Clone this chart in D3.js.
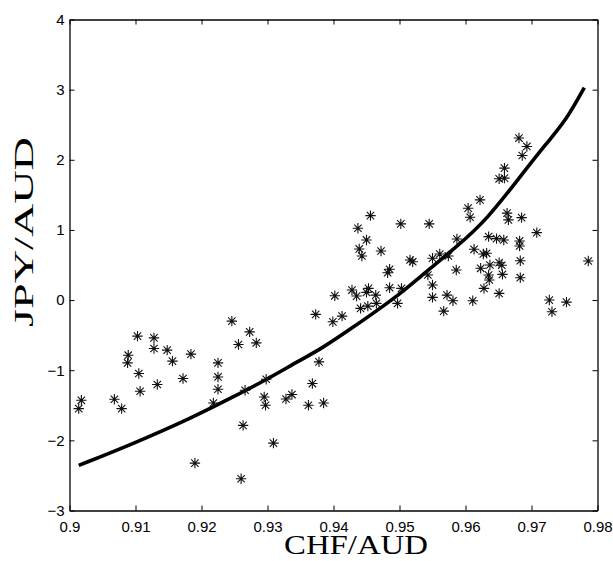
<!DOCTYPE html>
<html><head><meta charset="utf-8">
<script src="https://cdn.jsdelivr.net/npm/d3@7"></script>
<style>body{margin:0;background:#fff}</style>
</head><body>
<script>
// Scatter observations (CHF/AUD vs JPY/AUD)
const obsX = [0.9014,0.9018,0.9068,0.9079,0.9089,0.9088,0.9103,0.9105,0.9107,0.9128,0.9128,0.9133,0.9148,0.9156,0.9172,0.9184,0.9190,0.9225,0.9225,0.9225,0.9218,0.9246,0.9273,0.9256,0.9283,0.9266,0.9298,0.9295,0.9297,0.9328,0.9337,0.9362,0.9385,0.9263,0.9309,0.9260,0.9373,0.9399,0.9413,0.9378,0.9368,0.9456,0.9437,0.9502,0.9545,0.9450,0.9439,0.9443,0.9472,0.9516,0.9520,0.9485,0.9482,0.9550,0.9561,0.9543,0.9550,0.9428,0.9453,0.9485,0.9503,0.9402,0.9435,0.9450,0.9464,0.9441,0.9452,0.9465,0.9497,0.9550,0.9572,0.9567,0.9681,0.9693,0.9686,0.9659,0.9651,0.9659,0.9622,0.9604,0.9607,0.9663,0.9665,0.9685,0.9708,0.9587,0.9635,0.9647,0.9658,0.9682,0.9682,0.9613,0.9627,0.9632,0.9574,0.9586,0.9623,0.9637,0.9651,0.9655,0.9683,0.9786,0.9635,0.9636,0.9656,0.9683,0.9628,0.9581,0.9611,0.9651,0.9727,0.9731,0.9753];
const obsY = [-1.547,-1.429,-1.414,-1.547,-0.786,-0.896,-0.514,-1.047,-1.300,-0.539,-0.690,-1.204,-0.714,-0.871,-1.119,-0.771,-2.324,-0.896,-1.096,-1.271,-1.467,-0.300,-0.453,-0.633,-0.610,-1.286,-1.129,-1.381,-1.500,-1.410,-1.347,-1.500,-1.467,-1.786,-2.039,-2.547,-0.204,-0.310,-0.229,-0.881,-1.190,1.204,1.024,1.086,1.086,0.857,0.729,0.629,0.700,0.571,0.547,0.439,0.390,0.596,0.657,0.357,0.214,0.143,0.167,0.176,0.167,0.061,0.057,0.110,0.071,-0.119,-0.086,-0.047,-0.047,0.039,0.071,-0.157,2.310,2.190,2.061,1.881,1.729,1.739,1.429,1.310,1.181,1.239,1.143,1.176,0.961,0.871,0.904,0.876,0.857,0.843,0.771,0.724,0.657,0.667,0.629,0.429,0.453,0.500,0.533,0.496,0.561,0.557,0.357,0.286,0.367,0.319,0.167,-0.010,-0.010,0.096,0.000,-0.167,-0.029];
// Fitted curve, points
const fitX = [0.9014,0.9097,0.9188,0.9243,0.9299,0.9349,0.9380,0.9425,0.9496,0.9531,0.9587,0.9632,0.9683,0.9723,0.9753,0.9780];
const fitY = [-2.357,-2.047,-1.667,-1.404,-1.133,-0.857,-0.704,-0.419,0.047,0.333,0.761,1.143,1.761,2.239,2.571,3.030];
const xTicks = [0.9,0.91,0.92,0.93,0.94,0.95,0.96,0.97,0.98];
const yTicks = [-3,-2,-1,0,1,2,3,4];
const xTitle = "CHF/AUD";
const yTitle = "JPY/AUD";

const W = 613, H = 561;
const L = 69.5, R = 597.5, T = 19.5, B = 510.5;
const x = d3.scaleLinear().domain([0.9, 0.98]).range([L, R]);
const y = d3.scaleLinear().domain([-3, 4]).range([B, T]);

const svg = d3.select("body").append("svg").attr("width", W).attr("height", H)
  .style("font-family", "'Liberation Sans', Arial, sans-serif");

const fmtX = d => String(+d.toFixed(2));
const fmtY = d => d < 0 ? "\u2212" + Math.abs(d) : String(d);

function styleAxis(g) {
  g.selectAll("path.domain").attr("stroke", "#000").attr("stroke-width", 1.3);
  g.selectAll(".tick line").attr("stroke", "#000").attr("stroke-width", 1);
  g.selectAll(".tick text").attr("fill", "#000").style("font-size", "15px");
}

svg.append("g").attr("transform", `translate(0,${B})`)
  .call(d3.axisBottom(x).tickValues(xTicks).tickFormat(fmtX).tickSizeInner(-5).tickSizeOuter(0).tickPadding(11))
  .call(styleAxis).attr("font-family", null).attr("font-size", null);
svg.append("g").attr("transform", `translate(0,${T})`)
  .call(d3.axisTop(x).tickValues(xTicks).tickFormat("").tickSizeInner(-5).tickSizeOuter(0))
  .call(styleAxis);
svg.append("g").attr("transform", `translate(${L},0)`)
  .call(d3.axisLeft(y).tickValues(yTicks).tickFormat(fmtY).tickSizeInner(-5).tickSizeOuter(0).tickPadding(5))
  .call(styleAxis).attr("font-family", null).attr("font-size", null);
svg.append("g").attr("transform", `translate(${R},0)`)
  .call(d3.axisRight(y).tickValues(yTicks).tickFormat("").tickSizeInner(-5).tickSizeOuter(0))
  .call(styleAxis);

// fitted curve
const fit = fitX.map((v, i) => [v, fitY[i]]);
svg.append("path").datum(fit)
  .attr("d", d3.line().x(d => x(d[0])).y(d => y(d[1])).curve(d3.curveBasis))
  .attr("fill", "none").attr("stroke", "#000").attr("stroke-width", 3.6);

// asterisk markers
const r = 5.2, rd = 3.7;
const star = `M${-r},0H${r}M0,${-r}V${r}M${-rd},${-rd}L${rd},${rd}M${-rd},${rd}L${rd},${-rd}`;
svg.append("g").selectAll("path").data(obsX.map((v, i) => [v, obsY[i]])).join("path")
  .attr("transform", d => `translate(${x(d[0])},${y(d[1])})`)
  .attr("d", star).attr("fill", "none").attr("stroke", "#111").attr("stroke-width", 1.1);

// titles
svg.append("text").text(xTitle)
  .attr("x", 356).attr("y", 554).attr("text-anchor", "middle")
  .attr("textLength", 144).attr("lengthAdjust", "spacingAndGlyphs")
  .style("font-family", "'Liberation Serif', 'Times New Roman', serif").style("font-size", "28px");
svg.append("text").text(yTitle)
  .attr("transform", "translate(33,232) rotate(-90)").attr("text-anchor", "middle")
  .attr("textLength", 190).attr("lengthAdjust", "spacingAndGlyphs")
  .style("font-family", "'Liberation Serif', 'Times New Roman', serif").style("font-size", "27px");
</script>
</body></html>
